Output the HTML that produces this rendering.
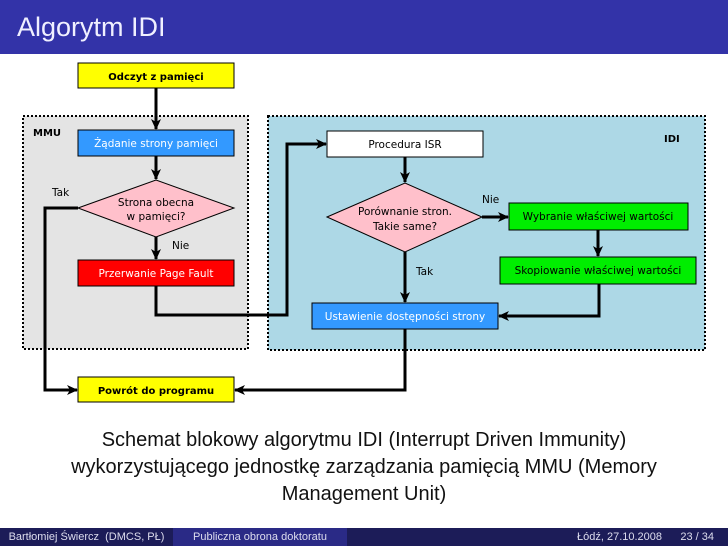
<!DOCTYPE html>
<html><head><meta charset="utf-8"><style>
body{margin:0;width:728px;height:546px;overflow:hidden;background:#fff;font-family:"Liberation Sans",sans-serif;position:relative}
.t{position:absolute;left:0;top:0;width:728px;height:54px;background:#3333a8;color:#f0f0ff;font-size:27px;line-height:54px;padding-left:17px;box-sizing:border-box}
.cap{position:absolute;left:30px;width:668px;top:427px;text-align:center;font-size:20px;line-height:27px;color:#111}
.f{position:absolute;top:528px;height:18px;font-size:11px;line-height:18px;color:#dde;text-align:center}
</style></head><body>
<div class="t">Algorytm IDI</div>
<svg width="728" height="546" style="position:absolute;left:0;top:0" font-family="DejaVu Sans, sans-serif" font-size="10.5">
<defs><marker id="a" markerWidth="11" markerHeight="10" refX="10" refY="5" orient="auto" markerUnits="userSpaceOnUse"><path d="M0,0L11,5L0,10L3,5z"/></marker></defs>
<rect x="23" y="116" width="225" height="233" fill="#e4e4e4" stroke="#000" stroke-width="2" stroke-dasharray="2,2"/>
<rect x="268" y="116" width="437" height="234" fill="#add8e6" stroke="#000" stroke-width="2" stroke-dasharray="2,2"/>
<text x="33" y="136" font-weight="bold" font-size="10">MMU</text>
<text x="664" y="142" font-weight="bold" font-size="10">IDI</text>
<g stroke="#000" stroke-width="3" fill="none" marker-end="url(#a)">
<path d="M156,88V129"/><path d="M156,156V179"/><path d="M156,237V259"/>
<path d="M156,286V315H287V144H326"/>
<path d="M78,208H45V390H77"/>
<path d="M405,157V182"/><path d="M405,252V302"/>
<path d="M482,217H508"/><path d="M598,230V256"/>
<path d="M599,284V316H499"/>
<path d="M405,329V390H235"/>
</g>
<g stroke="#000" stroke-width="1">
<rect x="78" y="63" width="156" height="25" fill="#ffff00"/>
<rect x="78" y="130" width="156" height="26" fill="#3399ff"/>
<polygon points="78,208 156,180 234,208 156,237" fill="#ffc0cb"/>
<rect x="78" y="260" width="156" height="26" fill="#ff0000"/>
<rect x="78" y="377" width="156" height="25" fill="#ffff00"/>
<rect x="327" y="131" width="156" height="26" fill="#fff"/>
<polygon points="327,217 405,183 482,217 405,252" fill="#ffc0cb"/>
<rect x="509" y="203" width="179" height="27" fill="#00ee00"/>
<rect x="500" y="257" width="196" height="27" fill="#00ee00"/>
<rect x="312" y="303" width="186" height="26" fill="#3399ff"/>
</g>
<g text-anchor="middle">
<text x="156" y="80" font-weight="bold" font-size="10">Odczyt z pamięci</text>
<text x="156" y="147" fill="#fff">Żądanie strony pamięci</text>
<text x="156" y="206">Strona obecna</text><text x="156" y="220">w pamięci?</text>
<text x="156" y="277" fill="#fff">Przerwanie Page Fault</text>
<text x="156" y="394" font-weight="bold" font-size="10">Powrót do programu</text>
<text x="405" y="148">Procedura ISR</text>
<text x="405" y="215">Porównanie stron.</text><text x="405" y="230">Takie same?</text>
<text x="598" y="220">Wybranie właściwej wartości</text>
<text x="598" y="274">Skopiowanie właściwej wartości</text>
<text x="405" y="320" fill="#fff">Ustawienie dostępności strony</text>
</g>
<text x="52" y="196">Tak</text><text x="172" y="249">Nie</text>
<text x="482" y="203">Nie</text><text x="416" y="275">Tak</text>
</svg>
<div class="cap">Schemat blokowy algorytmu IDI (Interrupt Driven Immunity) wykorzystującego jednostkę zarządzania pamięcią MMU (Memory Management Unit)</div>
<div class="f" style="left:0;width:173px;background:#1c1c58">Bartłomiej Świercz &nbsp;(DMCS, PŁ)</div>
<div class="f" style="left:173px;width:174px;background:#2a2a86">Publiczna obrona doktoratu</div>
<div class="f" style="left:347px;width:381px;background:#1c1c58;text-align:right;padding-right:14px;box-sizing:border-box">Łódź, 27.10.2008 &nbsp;&nbsp;&nbsp;&nbsp;&nbsp;23 / 34</div>
</body></html>
